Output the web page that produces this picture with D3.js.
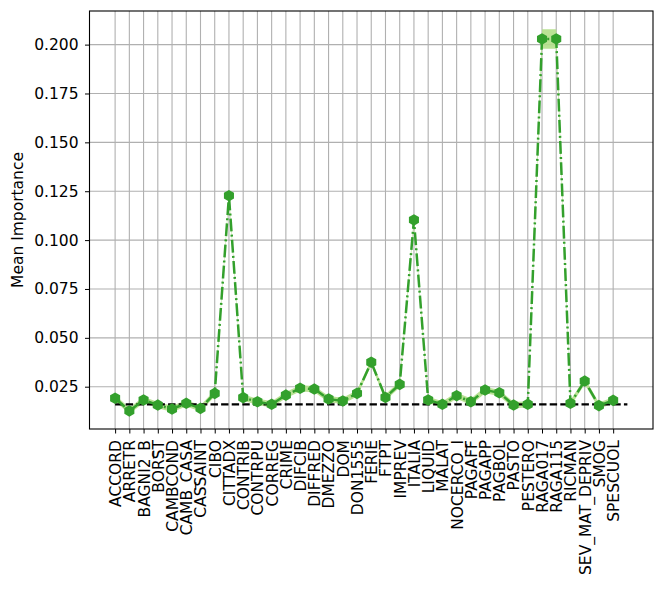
<!DOCTYPE html>
<html>
<head>
<meta charset="utf-8">
<script src="https://cdn.jsdelivr.net/npm/d3@7"></script>
<style>
  body { margin: 0; background: #fff; }
  text { font-family: "DejaVu Sans", sans-serif; }
</style>
</head>
<body>
<svg id="chart" width="664" height="591"></svg>
<script>
// feature names on the x axis
const categories = ['ACCORD', 'ARRETR', 'BAGNI2_B', 'BORST', 'CAMBCOND', 'CAMB_CASA', 'CASSAINT', 'CIBO',
  'CITTADX', 'CONTRIB', 'CONTRPU', 'CORREG', 'CRIME', 'DIFCIB', 'DIFFRED', 'DMEZZO', 'DOM', 'DON1555',
  'FERIE', 'FTPT', 'IMPREV', 'ITALIA', 'LIQUID', 'MALAT', 'NOCERCO_I', 'PAGAFF', 'PAGAPP', 'PAGBOL',
  'PASTO', 'PESTERO', 'RAGA017', 'RAGA115', 'RICMAN', 'SEV_MAT_DEPRIV', 'SMOG', 'SPESCUOL'];

// mean importance per feature
const meanImportance = [0.0191, 0.0126, 0.0182, 0.0156, 0.0136, 0.0165, 0.0139, 0.0216,
  0.1227, 0.0194, 0.0173, 0.0160, 0.0207, 0.0242, 0.0238, 0.0187, 0.0177, 0.0216,
  0.0375, 0.0195, 0.0262, 0.1103, 0.0182, 0.0160, 0.0204, 0.0173, 0.0233, 0.0219,
  0.0156, 0.0160, 0.2029, 0.2029, 0.0165, 0.0279, 0.0153, 0.0180];

// spread (std) around the mean, drawn as a band
const stdImportance = [0.0016, 0.0016, 0.0016, 0.0016, 0.0016, 0.0016, 0.0016, 0.0016,
  0.0018, 0.0016, 0.0016, 0.0016, 0.0016, 0.0016, 0.0016, 0.0016, 0.0016, 0.0016,
  0.0016, 0.0016, 0.0016, 0.0018, 0.0016, 0.0016, 0.0016, 0.0016, 0.0016, 0.0016,
  0.0016, 0.0016, 0.0050, 0.0050, 0.0016, 0.0016, 0.0016, 0.0016];

const threshold = 0.016;
const yTicks = [0.025, 0.050, 0.075, 0.100, 0.125, 0.150, 0.175, 0.200];

const data = categories.map((c, i) => ({name: c, i: i, value: meanImportance[i], sd: stdImportance[i]}));

const dim = {left: 89.5, right: 653, top: 11, bottom: 429};
const fontSize = 15.5;

const svg = d3.select('#chart');

const x = d3.scaleLinear()
  .domain([-1.8, 37.8])
  .range([dim.left, dim.right]);

const y = d3.scaleLinear()
  .domain([0.00336, 0.2172])
  .range([dim.bottom, dim.top]);

// grid
const grid = svg.append('g').attr('class', 'grid')
  .attr('stroke', '#b0b0b0')
  .attr('stroke-width', 1.1);

grid.selectAll('.vg')
  .data(data)
  .enter().append('line')
    .attr('x1', d => x(d.i)).attr('x2', d => x(d.i))
    .attr('y1', dim.top).attr('y2', dim.bottom);

grid.selectAll('.hg')
  .data(yTicks)
  .enter().append('line')
    .attr('x1', dim.left).attr('x2', dim.right)
    .attr('y1', d => y(d)).attr('y2', d => y(d));

// band
const band = d3.area()
  .x(d => x(d.i))
  .y0(d => y(d.value - d.sd))
  .y1(d => y(d.value + d.sd));

svg.append('path')
  .datum(data)
  .attr('d', band)
  .attr('fill', '#b2df8a')
  .attr('opacity', 0.9);

// threshold line
svg.append('line')
  .attr('x1', x(0)).attr('x2', x(categories.length))
  .attr('y1', y(threshold)).attr('y2', y(threshold))
  .attr('stroke', '#000')
  .attr('stroke-width', 2.2)
  .attr('stroke-dasharray', '7.4 3.2');

// mean line
const line = d3.line()
  .x(d => x(d.i))
  .y(d => y(d.value));

svg.append('path')
  .datum(data)
  .attr('d', line)
  .attr('fill', 'none')
  .attr('stroke', '#33a02c')
  .attr('stroke-width', 2.5)
  .attr('stroke-dasharray', '12.8 3.2 2 3.2');

// hexagon markers
const hexR = 5.8;
const hexPath = d3.range(6).map(k => {
  const a = Math.PI / 2 + k * Math.PI / 3;
  return [hexR * Math.cos(a), -hexR * Math.sin(a)];
});

svg.selectAll('.marker')
  .data(data)
  .enter().append('path')
    .attr('class', 'marker')
    .attr('transform', d => `translate(${x(d.i)},${y(d.value)})`)
    .attr('d', 'M' + hexPath.join('L') + 'Z')
    .attr('fill', '#33a02c');

// axes
const xAxis = d3.axisBottom(x)
  .tickValues(data.map(d => d.i))
  .tickFormat(i => categories[i])
  .tickSize(4.5)
  .tickSizeOuter(0);

const gx = svg.append('g')
  .attr('transform', `translate(0,${dim.bottom})`)
  .call(xAxis);

gx.select('.domain').remove();
gx.selectAll('text')
  .attr('font-size', fontSize)
  .attr('fill', '#000')
  .attr('transform', 'rotate(-90)')
  .attr('text-anchor', 'end')
  .attr('x', -11)
  .attr('y', 0)
  .attr('dy', '0.35em');

const yAxis = d3.axisLeft(y)
  .tickValues(yTicks)
  .tickFormat(d3.format('.3f'))
  .tickSize(4.5)
  .tickSizeOuter(0);

const gy = svg.append('g')
  .attr('transform', `translate(${dim.left},0)`)
  .call(yAxis);

gy.select('.domain').remove();
gy.selectAll('text')
  .attr('font-size', fontSize)
  .attr('fill', '#000')
  .attr('x', -11);

svg.selectAll('.tick line').attr('stroke', '#000').attr('stroke-width', 1);

// frame
svg.append('rect')
  .attr('x', dim.left).attr('y', dim.top)
  .attr('width', dim.right - dim.left)
  .attr('height', dim.bottom - dim.top)
  .attr('fill', 'none')
  .attr('stroke', '#000')
  .attr('stroke-width', 1.1);

svg.append('text')
  .attr('transform', `translate(23,${(dim.top + dim.bottom) / 2}) rotate(-90)`)
  .attr('text-anchor', 'middle')
  .attr('font-size', fontSize)
  .text('Mean Importance');
</script>
</body>
</html>
